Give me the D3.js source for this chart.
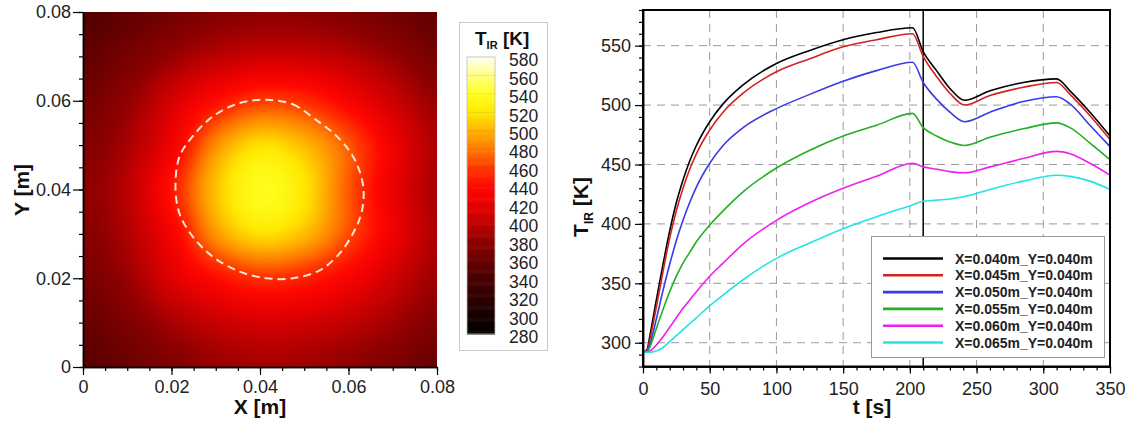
<!DOCTYPE html>
<html><head><meta charset="utf-8">
<script src="https://cdn.jsdelivr.net/npm/d3@7"></script>
<style>
html,body{margin:0;padding:0;background:#fff;}
svg{display:block;font-family:"Liberation Sans",Arial,Helvetica,sans-serif;}
</style></head><body>
<svg id="chart" width="1130" height="423"></svg>
<script>
// ---------- data: temperature field (K) on a 0.01 m grid, rows from y=0.08 (top) to y=0 ----------
const fieldX = [0, 0.01, 0.02, 0.03, 0.04, 0.05, 0.06, 0.07, 0.08];
const fieldY = [0.08, 0.07, 0.06, 0.05, 0.04, 0.03, 0.02, 0.01, 0];
const fieldRow080 = [345, 355, 366, 376, 381, 380, 374, 365, 355];
const fieldRow070 = [355, 368, 384, 398, 406, 405, 397, 384, 368];
const fieldRow060 = [366, 382, 410, 440, 460, 455, 432, 406, 384];
const fieldRow050 = [374, 391, 426, 487, 517, 503, 470, 426, 393];
const fieldRow040 = [380, 398, 445, 506, 537, 520, 470, 423, 390];
const fieldRow030 = [376, 394, 430, 490, 517, 504, 466, 425, 393];
const fieldRow020 = [368, 385, 415, 440, 456, 450, 432, 407, 386];
const fieldRow010 = [358, 372, 390, 404, 411, 409, 401, 388, 374];
const fieldRow000 = [350, 361, 373, 384, 389, 387, 381, 371, 359];
const fieldRows = [fieldRow080, fieldRow070, fieldRow060, fieldRow050, fieldRow040, fieldRow030, fieldRow020, fieldRow010, fieldRow000];

// dashed contour (m)
const contourX = [0.0414, 0.0474, 0.0525, 0.0568, 0.0600, 0.0622, 0.0634, 0.0629, 0.0610, 0.0580, 0.0535, 0.0474, 0.0414, 0.0354, 0.0294, 0.0248, 0.0218, 0.0209, 0.0218, 0.0248, 0.0294, 0.0354];
const contourY = [0.0602, 0.0592, 0.0558, 0.0525, 0.0490, 0.0450, 0.0399, 0.0346, 0.0301, 0.0256, 0.0218, 0.0200, 0.0200, 0.0215, 0.0248, 0.0294, 0.0346, 0.0407, 0.0474, 0.0520, 0.0565, 0.0595];

// colour map
const cmapStops = [280, 300, 340, 380, 400, 420, 440, 460, 480, 500, 520, 540, 560, 580];
const cmapColors = ["#000000", "#180000", "#480000", "#8c0000", "#c00000", "#e80000", "#ff0800", "#ff3800", "#ff7800", "#ffb000", "#ffe800", "#ffff20", "#ffff80", "#fffff0"];
const cbTicks = [280, 300, 320, 340, 360, 380, 400, 420, 440, 460, 480, 500, 520, 540, 560, 580];
const mapTicks = [0, 0.02, 0.04, 0.06, 0.08];

// ---------- data: time histories ----------
const time = [0, 3, 5, 10, 15, 20, 25, 30, 35, 40, 50, 60, 75, 100, 125, 150, 175, 202, 210, 220, 230, 241, 260, 285, 310, 320, 335, 350];
const T040 = [292, 294, 305, 336, 366, 394, 418, 437, 453, 466, 486, 501, 517, 535, 546, 555, 561, 565, 545, 529, 514, 504, 512, 519, 522, 512, 494, 474];
const T045 = [292, 293.5, 302, 330, 360, 388, 411, 430, 446, 459, 479, 494, 510, 528, 539, 549, 555, 560, 541, 524, 510, 500, 508, 515, 519, 509, 491, 471];
const T050 = [292, 293, 298, 320, 344, 366, 386, 403, 418, 431, 451, 466, 481, 497, 509, 520, 529, 536, 519, 505, 494, 486, 494, 503, 507, 501, 483, 465];
const T055 = [292, 292.5, 296, 312, 328, 343, 356, 367, 376, 385, 399, 411, 427, 447, 462, 474, 483, 493, 481, 474, 469, 466, 473, 480, 485, 481, 468, 454];
const T060 = [292, 292, 293, 298, 305, 313, 321, 329, 336, 343, 356, 367, 383, 403, 418, 430, 440, 451, 448, 446, 444, 443, 448, 455, 461, 459, 451, 441];
const T065 = [292, 292, 292, 293, 296, 301, 306, 311, 316, 321, 331, 340, 353, 371, 384, 396, 406, 416, 419, 420, 421, 423, 429, 436, 441, 440, 436, 429];
const seriesLabels = ["X=0.040m_Y=0.040m", "X=0.045m_Y=0.040m", "X=0.050m_Y=0.040m", "X=0.055m_Y=0.040m", "X=0.060m_Y=0.040m", "X=0.065m_Y=0.040m"];
const seriesValues = [T040, T045, T050, T055, T060, T065];
const seriesColors = ["#000000", "#d42020", "#3a3ae6", "#22b022", "#ee1fee", "#22e4e4"];
const xTicksR = [0, 50, 100, 150, 200, 250, 300, 350];
const yTicksR = [300, 350, 400, 450, 500, 550];
const markerTime = 210;

// ---------- drawing ----------
const svg = d3.select("#chart");
const color = d3.scaleLinear().domain(cmapStops).range(cmapColors).clamp(true);

// ===== left: heat map =====
const xH = d3.scaleLinear([0, 0.08], [83, 437]);
const yH = d3.scaleLinear([0, 0.08], [367, 12]);
const gx = d3.scaleLinear([fieldX[0], fieldX[fieldX.length - 1]], [0, fieldX.length - 1]);
const gy = d3.scaleLinear([fieldY[0], fieldY[fieldY.length - 1]], [0, fieldY.length - 1]);

function cr(p0, p1, p2, p3, t) {
  return p1 + 0.5 * t * (p2 - p0 + t * (2 * p0 - 5 * p1 + 4 * p2 - p3 + t * (3 * (p1 - p2) + p3 - p0)));
}
function sampleField(x, y) {
  const nx = fieldX.length, ny = fieldY.length;
  let fx = gx(x), fy = gy(y);
  fx = Math.max(0, Math.min(nx - 1.0001, fx));
  fy = Math.max(0, Math.min(ny - 1.0001, fy));
  const ix = Math.floor(fx), iy = Math.floor(fy);
  const tx = fx - ix, ty = fy - iy;
  const cl = (v, n) => Math.max(0, Math.min(n - 1, v));
  const rows = [];
  for (let j = -1; j <= 2; j++) {
    const r = fieldRows[cl(iy + j, ny)];
    rows.push(cr(r[cl(ix - 1, nx)], r[cl(ix, nx)], r[cl(ix + 1, nx)], r[cl(ix + 2, nx)], tx));
  }
  return cr(rows[0], rows[1], rows[2], rows[3], ty);
}

const hx0 = xH(0), hx1 = xH(0.08), hy0 = yH(0.08), hy1 = yH(0);
const W = Math.round(hx1 - hx0), H = Math.round(hy1 - hy0);
const canvas = document.createElement("canvas");
canvas.width = W; canvas.height = H;
const ctx = canvas.getContext("2d");
const img = ctx.createImageData(W, H);
for (let py = 0; py < H; py++) {
  const y = yH.invert(hy0 + py + 0.5);
  for (let px = 0; px < W; px++) {
    const x = xH.invert(hx0 + px + 0.5);
    const c = d3.rgb(color(sampleField(x, y)));
    const k = (py * W + px) * 4;
    img.data[k] = c.r; img.data[k + 1] = c.g; img.data[k + 2] = c.b; img.data[k + 3] = 255;
  }
}
ctx.putImageData(img, 0, 0);
svg.append("image").attr("x", hx0).attr("y", hy0).attr("width", W).attr("height", H)
  .attr("preserveAspectRatio", "none").attr("href", canvas.toDataURL());

// contour
const contour = contourX.map((x, i) => [x, contourY[i]]);
svg.append("path").attr("d", d3.line().x(d => xH(d[0])).y(d => yH(d[1])).curve(d3.curveCatmullRomClosed)(contour))
  .attr("fill", "none").attr("stroke", "#f4e6d8").attr("stroke-width", 2).attr("stroke-dasharray", "8,5");

// heat map axes
const fmtM = d => d === 0 ? "0" : d3.format(".2f")(d);
const minorM = d3.range(0, 0.0801, 0.005);
function styleAxis(g) {
  g.selectAll("path.domain").attr("stroke", "#000").attr("stroke-width", 1.5);
  g.selectAll(".tick line").attr("stroke", "#000").attr("stroke-width", 1.2);
  g.selectAll("text").attr("font-size", 18).attr("fill", "#222").attr("font-family", "Liberation Sans, Arial, sans-serif");
}
svg.append("g").attr("transform", `translate(0,${yH(0)})`)
  .call(d3.axisBottom(xH).tickValues(minorM).tickSize(4).tickFormat("").tickSizeOuter(0)).call(styleAxis);
svg.append("g").attr("transform", `translate(${xH(0)},0)`)
  .call(d3.axisLeft(yH).tickValues(minorM).tickSize(4).tickFormat("").tickSizeOuter(0)).call(styleAxis);
svg.append("g").attr("transform", `translate(0,${yH(0)})`)
  .call(d3.axisBottom(xH).tickValues(mapTicks).tickSize(8).tickPadding(5).tickFormat(fmtM).tickSizeOuter(0)).call(styleAxis);
svg.append("g").attr("transform", `translate(${xH(0)},0)`)
  .call(d3.axisLeft(yH).tickValues(mapTicks).tickSize(10).tickPadding(2).tickFormat(fmtM).tickSizeOuter(0)).call(styleAxis);

svg.append("text").attr("x", 260).attr("y", 414).attr("text-anchor", "middle")
  .attr("font-size", 21).attr("font-weight", "bold").attr("fill", "#111").text("X [m]");
svg.append("text").attr("transform", "translate(29,190) rotate(-90)").attr("text-anchor", "middle")
  .attr("font-size", 21).attr("font-weight", "bold").attr("fill", "#111").text("Y [m]");

// ===== colour bar =====
svg.append("rect").attr("x", 459.5).attr("y", 22.5).attr("width", 88).attr("height", 328)
  .attr("fill", "#fff").attr("stroke", "#c8c8c8").attr("stroke-width", 1);
const yCB = d3.scaleLinear([280, 580], [334, 57]);
const cbVals = d3.range(280, 580, 1);
svg.append("g").selectAll("rect").data(cbVals).join("rect")
  .attr("x", 467).attr("width", 28)
  .attr("y", d => yCB(d + 1)).attr("height", d => yCB(d) - yCB(d + 1) + 0.6)
  .attr("fill", d => color(d + 0.5));
svg.append("g").selectAll("line").data(cbTicks.slice(1, -1)).join("line")
  .attr("x1", 467).attr("x2", 495).attr("y1", d => yCB(d)).attr("y2", d => yCB(d))
  .attr("stroke", "#000").attr("stroke-opacity", 0.08);
svg.append("rect").attr("x", 467).attr("y", 57).attr("width", 28).attr("height", 277)
  .attr("fill", "none").attr("stroke", "#bbb").attr("stroke-width", 0.8);
svg.append("g").selectAll("text").data(cbTicks).join("text")
  .attr("x", 509).attr("y", d => yCB(d) + 3).attr("dy", "0.35em")
  .attr("font-size", 17.5).attr("fill", "#222").text(d => d);
const cbTitle = svg.append("text").attr("x", 475).attr("y", 45).attr("font-size", 19).attr("font-weight", "bold").attr("fill", "#111");
cbTitle.append("tspan").text("T");
cbTitle.append("tspan").attr("font-size", 11).attr("dy", 4).text("IR");
cbTitle.append("tspan").attr("dy", -4).text(" [K]");

// ===== right: time histories =====
const xR = d3.scaleLinear([0, 350], [643, 1110]);
const yR = d3.scaleLinear([280, 580], [366.5, 10]);

// grid
svg.append("g").selectAll("line").data(xTicksR.slice(1, -1)).join("line")
  .attr("x1", d => xR(d)).attr("x2", d => xR(d)).attr("y1", yR(580)).attr("y2", yR(280))
  .attr("stroke", "#9a9a9a").attr("stroke-width", 1).attr("stroke-dasharray", "8,6");
svg.append("g").selectAll("line").data(yTicksR).join("line")
  .attr("x1", xR(0)).attr("x2", xR(350)).attr("y1", d => yR(d)).attr("y2", d => yR(d))
  .attr("stroke", "#9a9a9a").attr("stroke-width", 1).attr("stroke-dasharray", "8,6");

// marker line
svg.append("line").attr("x1", xR(markerTime)).attr("x2", xR(markerTime)).attr("y1", yR(580)).attr("y2", yR(280))
  .attr("stroke", "#000").attr("stroke-width", 1.5);

// curves
const line = d3.line().x((d, i) => xR(time[i])).y(d => yR(d)).curve(d3.curveMonotoneX);
svg.append("g").selectAll("path").data(seriesValues).join("path")
  .attr("d", d => line(d)).attr("fill", "none")
  .attr("stroke", (d, i) => seriesColors[i]).attr("stroke-width", 1.6);

// frame + axes
svg.append("rect").attr("x", xR(0)).attr("y", yR(580)).attr("width", xR(350) - xR(0)).attr("height", yR(280) - yR(580))
  .attr("fill", "none").attr("stroke", "#000").attr("stroke-width", 2);
svg.append("g").attr("transform", `translate(0,${yR(280)})`)
  .call(d3.axisBottom(xR).tickValues(d3.range(0, 351, 10)).tickSize(4).tickFormat("").tickSizeOuter(0)).call(styleAxis);
svg.append("g").attr("transform", `translate(${xR(0)},0)`)
  .call(d3.axisLeft(yR).tickValues(d3.range(280, 581, 10)).tickSize(4).tickFormat("").tickSizeOuter(0)).call(styleAxis);
svg.append("g").attr("transform", `translate(0,${yR(280)})`)
  .call(d3.axisBottom(xR).tickValues(xTicksR).tickSize(7).tickPadding(9).tickSizeOuter(0)).call(styleAxis);
svg.append("g").attr("transform", `translate(${xR(0)},0)`)
  .call(d3.axisLeft(yR).tickValues(yTicksR).tickSize(8).tickPadding(4).tickSizeOuter(0)).call(styleAxis);

svg.append("text").attr("x", 872).attr("y", 414).attr("text-anchor", "middle")
  .attr("font-size", 21).attr("font-weight", "bold").attr("fill", "#111").text("t [s]");
const yTitle = svg.append("text").attr("transform", "translate(588,207) rotate(-90)").attr("text-anchor", "middle")
  .attr("font-size", 21).attr("font-weight", "bold").attr("fill", "#111");
yTitle.append("tspan").text("T");
yTitle.append("tspan").attr("font-size", 12).attr("dy", 5).text("IR");
yTitle.append("tspan").attr("dy", -5).text(" [K]");

// legend
svg.append("rect").attr("x", 871.5).attr("y", 236.5).attr("width", 233).attr("height", 121)
  .attr("fill", "#fff").attr("stroke", "#9a9a9a").attr("stroke-width", 1);
const leg = svg.append("g").selectAll("g").data(seriesLabels).join("g")
  .attr("transform", (d, i) => `translate(0,${258.5 + i * 16.8})`);
leg.append("line").attr("x1", 883).attr("x2", 943).attr("y1", 0).attr("y2", 0)
  .attr("stroke", (d, i) => seriesColors[i]).attr("stroke-width", 2.6);
leg.append("text").attr("x", 955).attr("y", 0).attr("dy", "0.36em")
  .attr("font-size", 14).attr("font-weight", "bold").attr("fill", "#222").text(d => d);
</script>
</body></html>
